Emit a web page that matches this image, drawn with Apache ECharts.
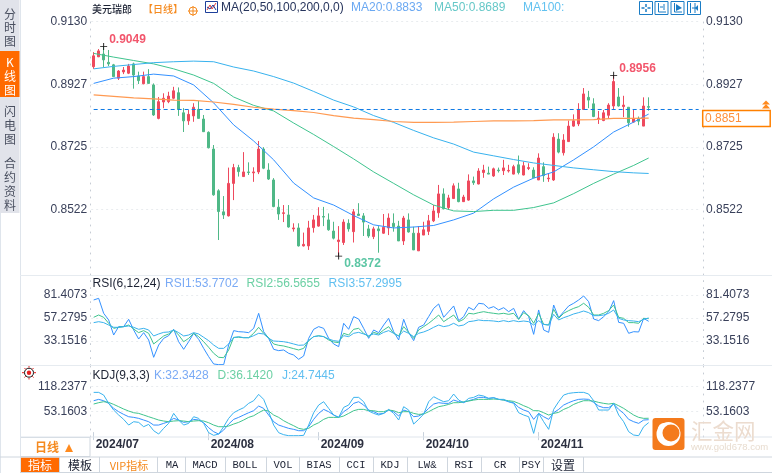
<!DOCTYPE html>
<html><head><meta charset="utf-8">
<style>html,body{margin:0;padding:0;background:#fff}#c{width:772px;height:473px}</style>
<script src="https://cdn.jsdelivr.net/npm/echarts@6/dist/echarts.min.js"></script>
</head><body><div id="c"></div>
<script>
// ---- data ----
const monthTickIndex=[0,23,45,66,89];
const monthTickLabel=['2024/07','2024/08','2024/09','2024/10','2024/11'];
const slotCount=122;
const priceTicks=[0.9130,0.8927,0.8725,0.8522];
const rsiTicks=[81.4073,57.2795,33.1516];
const kdjTicks=[118.2377,53.1603];
const lastPriceLine=0.88457, lastPriceText='0.8851';
// open, close, low, high
const ohlc=[
[.8984,.9019,.8977,.9031],[.9016,.9035,.9015,.9041],[.9025,.9006,.8983,.9049],[.8998,.8993,.8986,.9038],[.8990,.8952,.8951,.8993],
[.8947,.8970,.8941,.8973],[.8967,.8973,.8960,.8983],[.8963,.8986,.8960,.8993],[.8993,.8957,.8913,.8997],[.8954,.8939,.8928,.8968],
[.8929,.8952,.8927,.8968],[.8952,.8930,.8930,.8976],[.8925,.8828,.8825,.8930],[.8817,.8871,.8814,.8886],[.8870,.8882,.8850,.8898],
[.8871,.8889,.8866,.8903],[.8882,.8906,.8879,.8919],[.8900,.8846,.8825,.8917],[.8835,.8809,.8773,.8850],[.8809,.8830,.8796,.8844],
[.8825,.8853,.8806,.8866],[.8846,.8817,.8817,.8873],[.8815,.8774,.8773,.8828],[.8772,.8722,.8720,.8775],[.8718,.8570,.8567,.8731],
[.8583,.8516,.8424,.8588],[.8515,.8505,.8492,.8566],[.8502,.8607,.8500,.8658],[.8607,.8658,.8553,.8670],[.8658,.8645,.8629,.8667],
[.8629,.8644,.8629,.8708],[.8644,.8642,.8634,.8675],[.8641,.8644,.8612,.8659],[.8644,.8718,.8637,.8744],[.8718,.8656,.8653,.8724],
[.8650,.8621,.8618,.8672],[.8618,.8532,.8530,.8624],[.8530,.8508,.8489,.8556],[.8510,.8512,.8482,.8537],[.8505,.8466,.8464,.8537],
[.8460,.8463,.8451,.8478],[.8463,.8405,.8403,.8478],[.8405,.8410,.8403,.8448],[.8405,.8463,.8392,.8486],[.8464,.8489,.8448,.8505],
[.8469,.8502,.8467,.8530],[.8500,.8498,.8469,.8531],[.8489,.8457,.8454,.8510],[.8453,.8430,.8426,.8483],[.8419,.8424,.8372,.8469],
[.8416,.8482,.8408,.8491],[.8478,.8460,.8451,.8491],[.8451,.8515,.8416,.8524],[.8508,.8503,.8503,.8543],[.8502,.8482,.8437,.8511],
[.8460,.8437,.8431,.8473],[.8435,.8460,.8427,.8467],[.8460,.8454,.8383,.8469],[.8446,.8465,.8444,.8508],[.8463,.8495,.8440,.8510],
[.8478,.8467,.8451,.8510],[.8469,.8421,.8421,.8486],[.8421,.8495,.8408,.8502],[.8489,.8450,.8448,.8510],[.8446,.8392,.8392,.8467],
[.8389,.8446,.8389,.8469],[.8440,.8457,.8440,.8483],[.8452,.8486,.8440,.8505],[.8486,.8518,.8482,.8537],[.8512,.8573,.8496,.8602],
[.8573,.8525,.8523,.8591],[.8529,.8560,.8521,.8570],[.8558,.8599,.8557,.8607],[.8589,.8548,.8546,.8609],[.8548,.8563,.8547,.8570],
[.8553,.8615,.8551,.8636],[.8615,.8609,.8602,.8629],[.8605,.8647,.8604,.8656],[.8642,.8650,.8625,.8667],[.8640,.8637,.8637,.8661],
[.8631,.8654,.8628,.8658],[.8650,.8648,.8642,.8658],[.8648,.8657,.8634,.8683],[.8647,.8649,.8642,.8667],[.8637,.8661,.8636,.8667],
[.8667,.8642,.8636,.8697],[.8634,.8664,.8633,.8677],[.8655,.8658,.8650,.8672],[.8650,.8625,.8624,.8659],[.8618,.8689,.8618,.8704],
[.8661,.8632,.8612,.8675],[.8622,.8624,.8612,.8640],[.8618,.8756,.8615,.8769],[.8750,.8708,.8704,.8769],[.8706,.8747,.8697,.8766],
[.8742,.8792,.8741,.8810],[.8792,.8809,.8790,.8830],[.8799,.8846,.8792,.8866],[.8846,.8896,.8844,.8915],[.8885,.8876,.8850,.8906],
[.8864,.8823,.8821,.8882],[.8816,.8818,.8799,.8841],[.8810,.8835,.8808,.8844],[.8827,.8860,.8816,.8866],[.8857,.8936,.8844,.8956],
[.8886,.8857,.8855,.8915],[.8855,.8860,.8821,.8890],[.8853,.8803,.8790,.8853],[.8805,.8817,.8803,.8844],[.8817,.8808,.8795,.8823],
[.8792,.8857,.8792,.8885],[.8855,.8853,.8842,.8885]];
// moving averages, read at these candles
const maReadAt=[0,4,8,12,16,20,24,28,32,36,40,44,48,52,56,60,64,68,72,76,80,84,88,92,96,100,104,108,111];
const ma20=[.8930,.8947,.8952,.8960,.8954,.8925,.8867,.8796,.8744,.8683,.8608,.8560,.8537,.8503,.8473,.8463,.8466,.8471,.8489,.8511,.8557,.8595,.8624,.8644,.8683,.8725,.8773,.8805,.8831];
const ma50=[.9027,.9015,.9004,.8993,.8977,.8957,.8930,.8886,.8859,.8841,.8802,.8765,.8726,.8686,.8644,.8607,.8570,.8537,.8518,.8516,.8520,.8520,.8529,.8544,.8574,.8607,.8637,.8665,.8689];
const ma100=[.8977,.8985,.8991,.8997,.9000,.9002,.9000,.8983,.8970,.8952,.8931,.8904,.8876,.8854,.8826,.8804,.8778,.8754,.8734,.8708,.8696,.8684,.8673,.8665,.8657,.8651,.8645,.8641,.8639];
const ma200=[.8893,.8888,.8883,.8880,.8876,.8875,.8870,.8862,.8853,.8847,.8842,.8836,.8826,.8818,.8813,.8807,.8804,.8804,.8805,.8807,.8809,.8809,.8810,.8812,.8812,.8813,.8817,.8817,.8818];
const rsi1=[76.2,77.9,62.2,55.2,39.4,48.2,48.2,55.9,44.7,35.2,41.9,34.2,16.0,28.9,35.9,38.7,45.4,32.4,24.4,32.4,41.2,34.9,25.4,16.7,9.0,8.3,8.3,28.9,44.0,42.9,42.6,41.9,46.4,62.2,42.9,35.9,24.4,23.0,23.7,20.2,18.4,13.9,17.4,35.9,45.4,48.2,46.4,35.9,30.0,27.2,51.7,45.4,58.7,56.2,46.4,35.9,44.7,41.9,49.9,56.9,42.9,34.2,55.9,41.9,33.5,47.5,49.9,58.7,67.4,72.0,58.0,63.9,69.9,54.5,58.7,68.5,65.7,72.7,72.0,67.4,69.2,65.7,68.1,63.9,67.4,55.9,65.0,58.7,40.1,65.7,44.7,42.2,70.9,57.6,63.9,69.9,72.7,76.2,80.4,74.4,56.2,54.5,58.7,63.9,75.5,52.7,51.7,41.2,42.9,42.6,56.9,53.8];
const rsi2=[58.0,60.4,58.0,51.7,46.4,47.5,48.2,49.9,45.7,41.9,44.0,41.2,30.0,34.2,38.4,40.5,44.7,39.4,32.4,35.9,41.2,37.7,32.4,26.5,20.2,16.0,15.6,23.7,37.0,37.0,36.6,36.6,41.2,47.5,41.2,36.6,30.0,28.6,27.9,26.5,25.1,23.7,25.4,33.5,37.7,38.7,37.7,34.2,32.1,31.4,41.2,39.4,45.4,46.4,41.2,37.7,42.2,40.5,44.7,48.2,41.2,38.4,48.2,42.2,35.9,44.7,48.2,51.7,55.9,60.4,53.4,56.9,60.4,53.4,55.9,62.2,61.5,62.9,63.9,62.9,62.2,61.5,62.2,61.1,62.2,55.9,62.9,59.7,51.7,62.2,50.6,49.9,66.4,56.9,62.2,65.0,67.4,69.2,72.7,68.5,60.4,60.4,62.2,65.0,70.9,58.0,56.9,52.4,52.4,51.7,56.9,56.6];
const rsi3=[52.4,53.4,52.4,49.9,47.5,47.5,48.2,48.9,47.5,45.4,46.4,44.7,38.4,40.5,42.2,42.6,44.7,41.9,38.4,39.4,41.9,40.5,37.0,33.5,28.9,25.4,25.4,30.0,36.6,37.7,36.6,36.6,38.7,41.2,40.5,35.9,33.1,32.8,32.4,31.4,30.0,28.6,28.9,33.5,37.7,38.4,37.7,35.2,33.5,32.8,38.7,37.7,41.2,42.2,40.5,38.7,40.5,39.4,42.2,44.0,41.2,38.4,43.6,41.2,37.7,41.2,42.6,44.7,47.5,49.9,48.2,49.2,51.7,48.9,49.9,53.4,54.1,55.2,54.5,54.5,54.1,53.4,54.5,53.4,54.5,53.4,54.1,53.4,49.9,54.5,50.6,49.9,61.1,55.2,57.6,59.4,61.5,62.9,64.6,62.9,59.7,59.7,60.4,62.2,65.7,56.9,55.2,54.5,54.1,53.4,55.9,57.3];
const kdjK=[81.8,85.3,81.8,74.9,61.8,53.2,46.2,40.1,38.4,35.8,31.5,27.1,18.4,18.4,22.8,27.1,35.8,31.5,25.4,27.1,33.2,31.5,24.5,11.5,1.1,-5.0,5.4,21.0,33.2,38.4,44.5,50.5,55.8,67.9,61.8,44.5,27.1,18.4,14.1,9.8,7.2,3.7,3.7,14.1,33.2,48.8,59.2,53.2,44.5,38.4,53.2,61.8,74.9,79.2,70.5,57.5,53.2,47.1,48.8,57.5,53.2,41.9,57.5,53.2,40.1,41.9,48.8,61.8,73.1,76.6,74.9,74.9,83.5,79.2,77.4,81.8,85.3,90.5,90.5,87.9,89.6,85.3,83.5,79.2,76.6,64.4,57.5,53.2,33.2,48.8,40.1,33.2,50.5,59.2,70.5,76.6,81.8,85.3,86.1,85.3,77.4,67.9,63.6,63.6,73.1,59.2,48.8,33.2,27.1,22.8,31.5,32.3];
const kdjD=[73.1,76.6,79.2,77.4,72.2,66.2,60.1,54.9,50.5,48.8,44.5,40.1,35.8,31.5,28.9,27.1,28.9,29.7,28.9,27.1,28.9,29.7,28.9,24.5,18.4,14.1,14.1,15.8,21.0,25.4,31.5,38.4,42.7,50.5,57.5,54.9,44.5,38.4,29.7,22.8,16.7,9.8,7.2,9.8,18.4,24.5,33.2,38.4,38.4,38.4,41.9,48.8,55.8,59.2,59.2,55.8,55.8,53.2,53.2,57.5,55.8,50.5,53.2,53.2,48.8,46.2,47.1,53.2,60.1,66.2,68.8,72.2,76.6,76.6,79.2,80.9,83.5,85.3,85.3,85.3,86.1,85.3,83.5,81.8,80.0,74.9,68.8,63.6,55.8,55.8,50.5,44.5,48.8,51.4,59.2,64.4,72.2,77.4,81.8,81.8,80.9,77.4,74.9,73.1,74.9,68.8,61.8,53.2,44.5,38.4,35.8,36.1];
const kdjJ=[103.5,103.5,96.5,74.9,57.5,44.5,33.2,18.4,27.1,25.4,14.1,20.2,3.7,-5.0,9.8,22.8,48.8,31.5,18.4,22.8,40.1,35.8,22.8,-1.5,-8.4,-5.0,14.1,35.8,50.5,57.5,63.6,74.9,81.8,98.3,85.3,53.2,18.4,-1.5,-6.7,-9.3,-9.3,-9.3,-8.4,18.4,50.5,70.5,79.2,61.8,44.5,38.4,64.4,70.5,90.5,90.5,79.2,54.9,48.8,44.5,48.8,59.2,48.8,31.5,66.2,57.5,21.0,33.2,47.1,79.2,92.2,85.3,79.2,81.8,99.1,83.5,76.6,87.9,90.5,96.5,94.0,87.9,89.6,85.3,85.3,79.2,74.9,50.5,44.5,40.1,-3.2,48.8,27.1,7.2,59.2,79.2,96.5,100.9,102.6,103.5,103.5,99.2,81.8,57.5,57.5,57.5,74.9,44.5,27.1,1.1,-7.6,-9.3,14.1,24.7];
const priceExtremes=[{i:2,v:.9049,c:'#f2566c',dy:-7},{i:49,v:.8372,c:'#5cc6a4',dy:8},{i:104,v:.8956,c:'#f2566c',dy:-7}];

// ---- palette ----
const RED='#ee4a5e',GRN='#4fb887',C20='#3391ff',C50='#3fc48e',C100='#38b2ee',C200='#ff9a52';
const SANS='"Liberation Sans",Arial,sans-serif',CJK='"Noto Sans CJK SC",sans-serif',MONO='"Liberation Mono",monospace';
const cats=Array.from({length:slotCount},(_,i)=>String(i));
const G=[{t:21.5,h:253.5,min:.8311,max:.9130,ticks:priceTicks,fmt:4},
         {t:275,h:90.6,min:7.3,max:102.4,ticks:rsiTicks,fmt:4},
         {t:365.6,h:71.4,min:-12.7,max:173.2,ticks:kdjTicks,fmt:4}];
const grids=G.map(g=>({left:91.17,right:70.83,top:g.t,height:g.h,containLabel:false}));
const xAxes=G.map((g,k)=>({type:'category',gridIndex:k,data:cats,boundaryGap:true,
  axisLine:{show:false},splitLine:{show:false},
  axisTick:k==2?{show:true,alignWithLabel:true,length:8,lineStyle:{color:'#c9d2dc'},interval:(i)=>monthTickIndex.includes(i)}:{show:false},
  axisLabel:k==2?{show:true,interval:(i)=>monthTickIndex.includes(i),formatter:(v,i)=>monthTickLabel[monthTickIndex.indexOf(+v)]||'',
     align:'left',padding:[0,0,0,2],margin:2,fontFamily:SANS,fontSize:12,fontWeight:'bold',color:'#2c3040',hideOverlap:false}:{show:false}}));
const yAxes=[];
G.forEach((g,k)=>{
  ['left','right'].forEach(pos=>{
    yAxes.push({type:'value',gridIndex:k,position:pos,min:g.min,max:g.max,scale:true,offset:pos=='left'?1:2.3,
      axisLine:{show:true,lineStyle:{color:'#c6ccd4',type:[1,6]}},
      axisTick:{show:false,customValues:g.ticks},
      axisLabel:{show:true,customValues:g.ticks,formatter:v=>(+v).toFixed(g.fmt),margin:pos=='left'?3:2.5,fontFamily:SANS,fontSize:12,color:'#39405a'},
      splitLine:{show:pos=='left',lineStyle:{color:'#e9ecef',type:[2,3],width:1}}});
  });
});
const line=(name,x,y,data,color,w)=>({name,type:'line',xAxisIndex:x,yAxisIndex:y,data,showSymbol:false,symbol:'none',
  lineStyle:{color,width:w||1},itemStyle:{color},silent:true,z:4,connectNulls:false});
const pairs=a=>a.map((v,k)=>[maReadAt[k],v]);
const crossPath='path://M3.5 0h1v3.5h3.5v1h-3.5v3.5h-1v-3.5h-3.5v-1h3.5z';
const lastSeries=line('Last',0,0,[[0,lastPriceLine],[slotCount-1,lastPriceLine]],'#0f7ae5',1);
lastSeries.lineStyle.type=[4,3];
const series=[
 {name:'K',type:'candlestick',xAxisIndex:0,yAxisIndex:0,data:ohlc,barWidth:3,silent:true,z:3,
  itemStyle:{color:RED,color0:GRN,borderColor:RED,borderColor0:GRN,borderColorDoji:RED,borderWidth:1},
  markPoint:{silent:true,animation:false,symbol:crossPath,symbolSize:7,itemStyle:{color:'#111'},
    data:priceExtremes.map(p=>({coord:[p.i,p.v],value:p.v.toFixed(4),
      label:{show:true,position:'right',distance:2,offset:[0,p.dy],formatter:p.v.toFixed(4),color:p.c,fontFamily:SANS,fontSize:12,fontWeight:'bold'}}))}},
 line('MA20',0,0,pairs(ma20),C20),line('MA50',0,0,pairs(ma50),C50),line('MA100',0,0,pairs(ma100),C100),line('MA200',0,0,pairs(ma200),C200,1.2),lastSeries,
 line('RSI1',1,2,rsi1,C20),line('RSI2',1,2,rsi2,C50),line('RSI3',1,2,rsi3,C100),
 line('K',2,4,kdjK,C20),line('D',2,4,kdjD,C50),line('J',2,4,kdjJ,C100)
];
// ---- chrome drawn around the chart ----
const g=[];
const t=(x,y,text,fill,size,font,o)=>g.push(Object.assign({type:'text',silent:true,z:20,x,y,style:{text,fill,font:`${(o&&o.w)||'normal'} ${size}px ${font}`,textAlign:(o&&o.a)||'left',textVerticalAlign:'middle'}}));
const r=(x,y,w,h,fill,o)=>g.push({type:'rect',silent:true,z:(o&&o.z)||10,shape:{x,y,width:w,height:h,r:(o&&o.r)||0},style:{fill:fill||'none',stroke:(o&&o.s)||null,lineWidth:(o&&o.lw)||1}});
const l=(x1,y1,x2,y2,c,z,w)=>g.push({type:'line',silent:true,z:z||11,shape:{x1,y1,x2,y2},style:{stroke:c,lineWidth:w||1}});
const poly=(pts,fill,z)=>g.push({type:'polygon',silent:true,z:z||12,shape:{points:pts},style:{fill}});
const circ=(cx,cy,ra,fill,stroke,z,lw)=>g.push({type:'circle',silent:true,z:z||12,shape:{cx,cy,r:ra},style:{fill:fill||'none',stroke:stroke||null,lineWidth:lw||1}});
// sidebar
r(0,0,19.5,213,'#e1e3ea');r(0,51,19.5,46,'#ff6a00',{z:11});
l(20.5,0,20.5,473,'#dfe5ec');l(0.5,213,0.5,473,'#dfe5ec');
[['分',14],['时',27],['图',41]].forEach(a=>t(10,a[1],a[0],'#4a5060',12,CJK,{a:'center'}));
[['K',62],['线',76],['图',90]].forEach(a=>t(10,a[1],a[0],'#fff',12,CJK,{a:'center'}));
[['闪',111],['电',125],['图',139]].forEach(a=>t(10,a[1],a[0],'#4a5060',12,CJK,{a:'center'}));
[['合',163],['约',177],['资',191],['料',205]].forEach(a=>t(10,a[1],a[0],'#4a5060',12,CJK,{a:'center'}));
// panel separators
l(20,275.5,772,275.5,'#e6ebf0');l(20,365.5,772,365.5,'#e6ebf0');l(20,437,772,437,'#dfe5ec');
l(0,457,772,457,'#cfd6de');l(20,472.5,772,472.5,'#cfd6de');
// titles
t(92,9,'美元瑞郎','#1c2233',10,CJK,{w:'500'});t(143,9,'【日线】','#f58a1f',10,CJK,{w:'500'});
circ(193,11,4,null,'#f58a1f');l(188,11,198,11,'#f58a1f');l(193,6,193,16,'#f58a1f');
r(205.5,1.5,12,11,'#fff',{s:'#1d3f9a'});
g.push({type:'polyline',silent:true,z:12,shape:{points:[[207,10],[210,5],[212,9],[216,3]]},style:{stroke:'#e23b3b',fill:'none'}});
g.push({type:'polyline',silent:true,z:12,shape:{points:[[207,7],[210,9],[213,5],[216,10]]},style:{stroke:'#1d3f9a',fill:'none'}});
t(221,8,'MA(20,50,100,200,0,0)','#26345c',12,SANS);
t(351,8,'MA20:0.8833','#6aa8f2',12,SANS);t(434,8,'MA50:0.8689','#66c8c8',12,SANS);t(523,8,'MA100:','#62c2f0',12,SANS);
t(92.5,283.7,'RSI(6,12,24)','#1c2233',12,SANS);t(165,283.7,'RSI1:53.7702','#7aaaf5',12,SANS);t(246.5,283.7,'RSI2:56.5655','#6cd0a4',12,SANS);t(328.5,283.7,'RSI3:57.2995','#60bff0',12,SANS);
t(92.5,375.7,'KDJ(9,3,3)','#1c2233',12,SANS);t(154,375.7,'K:32.3428','#7aaaf5',12,SANS);t(217.5,375.7,'D:36.1420','#6cd0a4',12,SANS);t(282,375.7,'J:24.7445','#60bff0',12,SANS);
// tool buttons
const B='#1a7cc5';
[639.5,655,671,687.5].forEach(x=>r(x,1.5,13,13,'#fff',{s:B}));
[[646,4,646,7],[646,9,646,12],[641.5,8,644.5,8],[647.5,8,650.5,8]].forEach(a=>l(a[0],a[1],a[2],a[3],B,12,1.5));
l(658.5,3,658.5,12,B);l(658.5,12,666,12,B);l(664,4,664,10,B);l(660,7,663,7,B,12);
l(674.5,3,674.5,12,B);l(674.5,12,682,12,B);poly([[676,4],[682,8],[676,11]],B);
l(690.5,3,690.5,13,B);l(695,3,695,13,B);poly([[695,8],[698,5],[698,11]],B);l(692,8,697,8,B);
// last price box
r(702.7,110.5,67.5,16,'#fff',{s:'#ff8000',lw:1.5,z:10});t(705,118.5,lastPriceText,'#ff8f3a',12,SANS);
poly([[766,100.5],[770,104.5],[762,104.5]],'#ff8a1e');poly([[766,104],[770,108.5],[762,108.5]],'#ff8a1e');
// sun marker
circ(29,372.7,4.5,null,'#111',12);circ(29,372.7,2.2,'#e62020',null,13);
[[22,372.7,24,372.7],[34,372.7,36,372.7],[29,366,29,367.5],[24.5,368,25.7,369.3],[33.5,368,32.3,369.3],[24.5,377.5,25.7,376.2],[33.5,377.5,32.3,376.2],[29,378,29,379.5]].forEach(a=>l(a[0],a[1],a[2],a[3],'#e62020',12));
// period box
r(20.5,437.5,69.5,19,'#fff',{s:'#cfd6de',z:10});
t(35,447.5,'日线','#f58a1f',12,CJK,{w:'bold'});poly([[69,444],[73,452],[65,452]],'#ff8a1e');
// tabs
r(20,457.5,39,15,'#ff6a00',{z:10});
[59,99,157,185,225,266,299,339,373,407,447,481,519,543,583].forEach(x=>l(x+.5,457,x+.5,473,'#cfd6de'));
t(40,465.5,'指标','#fff',12,CJK,{a:'center'});t(80,465.5,'模板','#1c2233',12,CJK,{a:'center'});
t(129,465.5,'VIP指标','#f58a1f',11,CJK,{a:'center'});
[['MA',172],['MACD',205],['BOLL',245],['VOL',283],['BIAS',319],['CCI',356],['KDJ',390],['LW&',427],['RSI',464],['CR',500],['PSY',531]].forEach(a=>t(a[1],465.5,a[0],'#1c2233',10.5,MONO,{a:'center'}));
t(563,465.5,'设置','#1c2233',12,CJK,{a:'center'});
// watermark
r(652.5,418,32,32,'#f47a1c',{r:3,z:15});
circ(668.5,434,12,'#fff',null,16);circ(671,433,8.5,'#f47a1c',null,17);circ(664,429,6,'#fff',null,16);circ(668,433,5,'#f47a1c',null,17);
t(691,431,'汇金网','#ecdccf',21.5,CJK,{});t(691,447,'www.gold678.com','#e8dccf',9.5,SANS,{});

const chart=echarts.init(document.getElementById('c'),null,{renderer:'canvas'});
chart.setOption({animation:false,backgroundColor:'#fff',grid:grids,xAxis:xAxes,yAxis:yAxes,series,graphic:{elements:g},tooltip:{show:false}});
</script></body></html>
